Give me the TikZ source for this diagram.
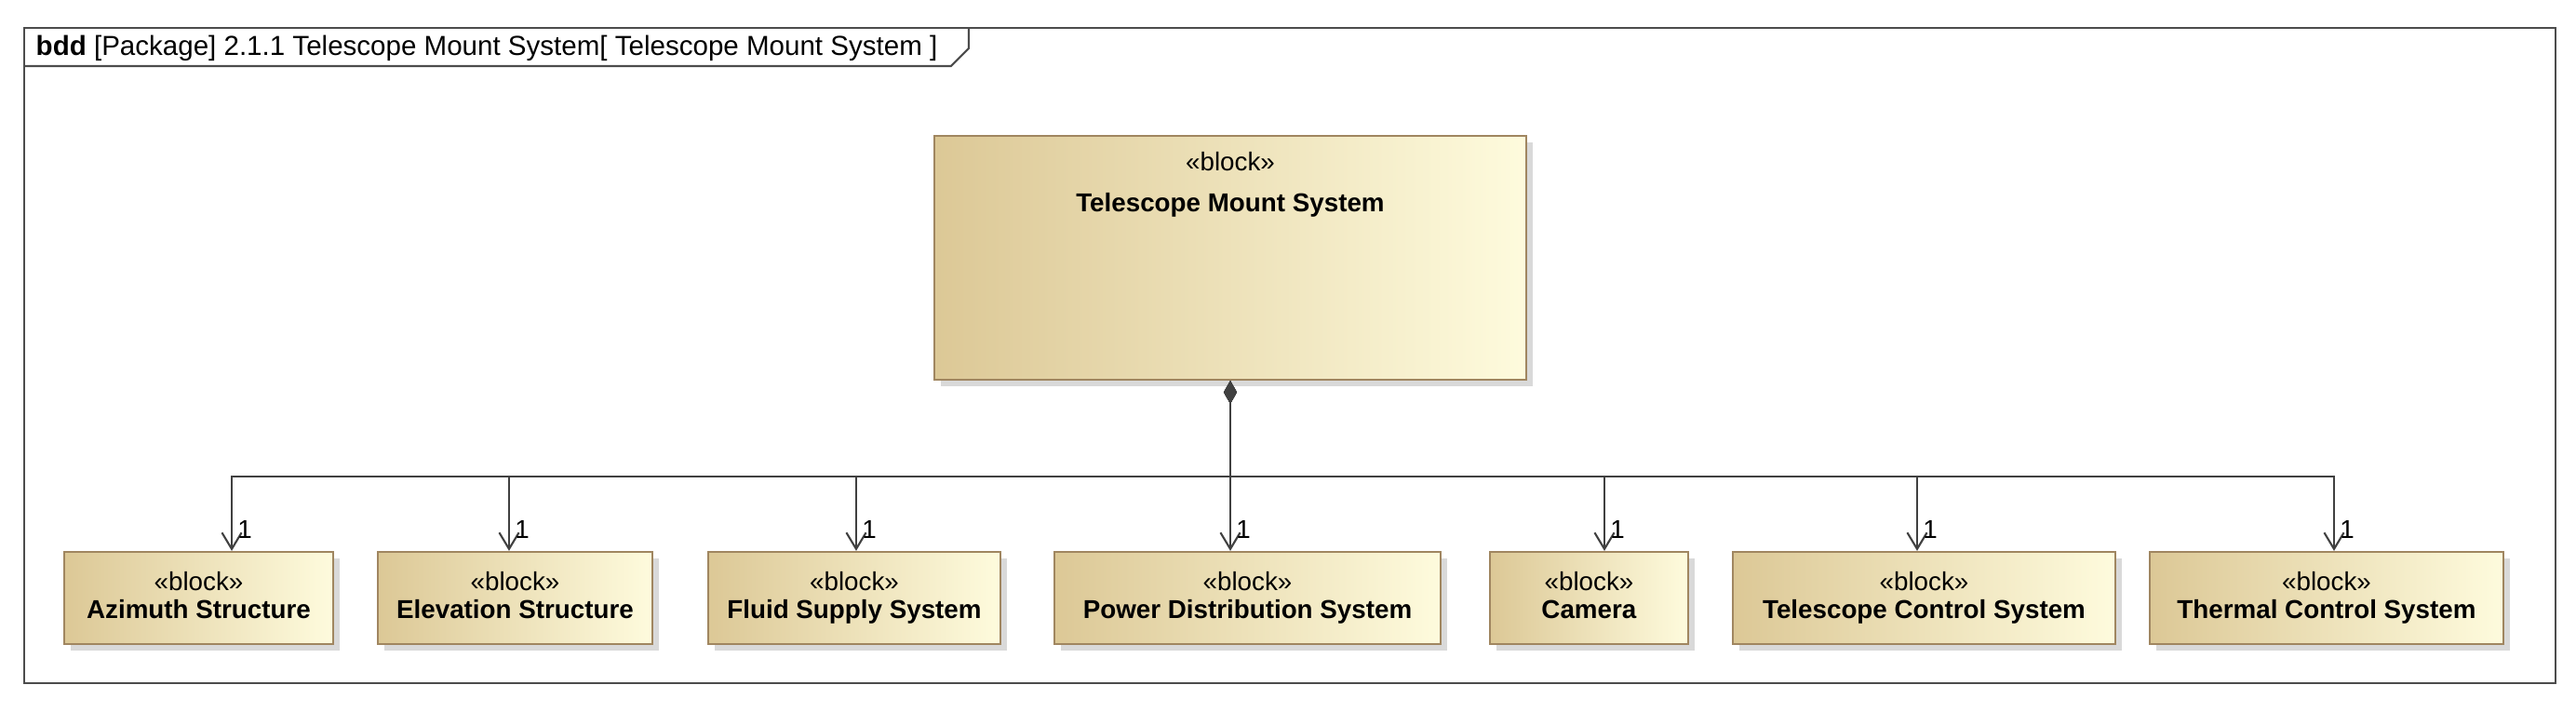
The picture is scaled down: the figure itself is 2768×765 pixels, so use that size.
\documentclass[tikz,border=0pt]{standalone}
\usepackage{fontspec}
\setmainfont{Liberation Sans}
\usetikzlibrary{positioning}
\usetikzlibrary{arrows.meta,shadows}

\definecolor{blkdark}{HTML}{DCC896}
\definecolor{blklight}{HTML}{FEFBDD}
\definecolor{blkline}{HTML}{A08660}

\newcommand{\blk}[1]{\strut«block»\\[-1pt]\textbf{#1}\strut}

\tikzset{
  block/.style={draw=blkline, line width=0.6pt, left color=blkdark, right color=blklight,
    drop shadow={shadow xshift=2pt, shadow yshift=-2pt, opacity=0.3, fill=gray},
    font=\fontsize{7.9}{9.5}\selectfont, align=center, inner sep=0pt},
  part/.style={draw=black!75, line width=0.6pt, {Diamond[length=7pt,width=4pt]}-{Straight Barb[length=5pt,width=6pt]}},
  mult/.style={pos=1, anchor=south west, font=\fontsize{7.9}{9}\selectfont, inner sep=1.5pt, yshift=2pt}
}

\begin{document}
\begin{tikzpicture}[x=0.01cm, y=-0.01cm]
  \useasboundingbox (0,0) rectangle (2768,765);

  % Frame
  \draw[black!70, line width=0.6pt] (26,30) rectangle (2746,734);
  \draw[black!70, line width=0.6pt] (26,71) -- (1022,71) -- (1041,52) -- (1041,30);
  \node[anchor=west, font=\fontsize{8.4}{9}\selectfont, inner sep=0pt] (title) at (38,52)
    {\textbf{bdd} [Package] 2.1.1 Telescope Mount System[ Telescope Mount System ]};

  % Blocks
  \node[block, minimum width=6.36cm, minimum height=2.62cm] (tms) at (1322,277) {};
  \node[font=\fontsize{7.9}{9.5}\selectfont, align=center, anchor=north, inner sep=0pt] (tmslbl)
    at ([yshift=-0.18cm]tms.north) {«block»\\[3pt]\textbf{Telescope Mount System}};

  \node[block, minimum width=2.89cm, minimum height=0.99cm] (az)  at (213.5,642.5) {\blk{Azimuth Structure}};
  \node[block, minimum width=2.95cm, minimum height=0.99cm] (el)  at (553.5,642.5) {\blk{Elevation Structure}};
  \node[block, minimum width=3.14cm, minimum height=0.99cm] (fs)  at (918,642.5) {\blk{Fluid Supply System}};
  \node[block, minimum width=4.15cm, minimum height=0.99cm] (pd)  at (1340.5,642.5) {\blk{Power Distribution System}};
  \node[block, minimum width=2.13cm, minimum height=0.99cm] (cam) at (1707.5,642.5) {\blk{Camera}};
  \node[block, minimum width=4.11cm, minimum height=0.99cm] (tcs) at (2067.5,642.5) {\blk{Telescope Control System}};
  \node[block, minimum width=3.80cm, minimum height=0.99cm] (thc) at (2500,642.5) {\blk{Thermal Control System}};

  % Composition
  \coordinate (bus) at (1322,512);
  \draw[part] (tms.south) -- (bus) -| ([xshift=0.355cm]az.north) node[mult] {1};
  \draw[part] (tms.south) -- (bus) -| ([xshift=-0.065cm]el.north) node[mult] {1};
  \draw[part] (tms.south) -- (bus) -| ([xshift=0.02cm]fs.north) node[mult] {1};
  \draw[part] (tms.south) -- (tms.south |- pd.north) node[mult] {1};
  \draw[part] (tms.south) -- (bus) -| ([xshift=0.165cm]cam.north) node[mult] {1};
  \draw[part] (tms.south) -- (bus) -| ([xshift=-0.075cm]tcs.north) node[mult] {1};
  \draw[part] (tms.south) -- (bus) -| ([xshift=0.08cm]thc.north) node[mult] {1};
\end{tikzpicture}
\end{document}
